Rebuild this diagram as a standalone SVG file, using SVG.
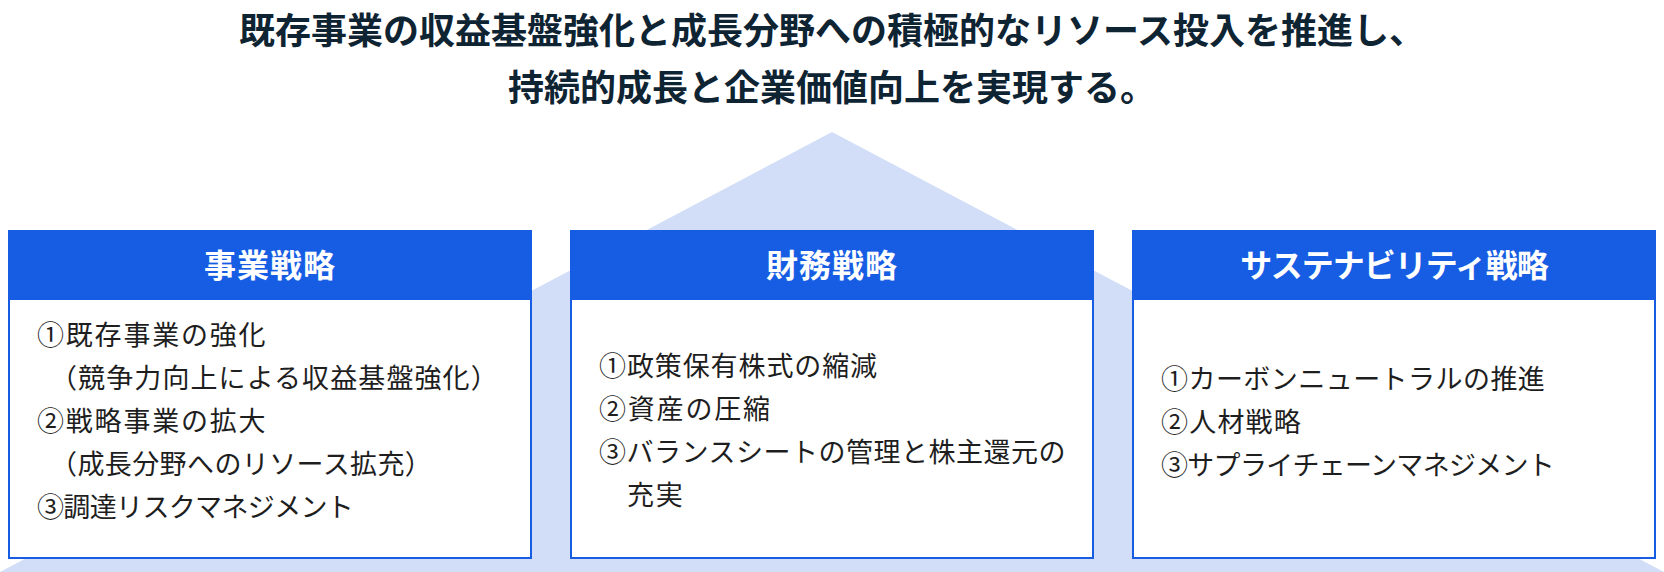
<svg xmlns="http://www.w3.org/2000/svg" width="1664" height="572" viewBox="0 0 1664 572">
  <style>
    .title { font-family: "Noto Sans CJK JP", "Noto Sans", sans-serif; font-size: 36px; font-weight: 700; fill: #0f2433; text-anchor: middle; }
    .head { fill: #165de3; }
    .body { fill: #ffffff; stroke: #165de3; stroke-width: 2; }
    .htext { font-family: "Noto Sans CJK JP", "Noto Sans", sans-serif; font-size: 32px; font-weight: 700; fill: #ffffff; text-anchor: middle; letter-spacing: 1px; }
    .item { font-family: "Noto Sans CJK JP", "Noto Sans", sans-serif; font-size: 27px; font-weight: 400; fill: #1e1e1e; letter-spacing: 1.8px; }
  </style>
  <rect width="1664" height="572" fill="#ffffff"/>
  <polygon id="roof" points="832,132 1664,572 0,572" fill="#d2def7"/>
  <g id="title">
    <text class="title" x="832" y="44">既存事業の収益基盤強化と成長分野への積極的なリソース投入を推進し、</text>
    <text class="title" x="832" y="101">持続的成長と企業価値向上を実現する。</text>
  </g>
  <g id="business">
    <rect class="body" x="9" y="231" width="522" height="327"/>
    <rect class="head" x="8" y="230" width="524" height="70"/>
    <text class="htext" x="270" y="277">事業戦略</text>
    <text class="item" x="37" y="345">①既存事業の強化</text>
    <text class="item" x="50" y="388" style="letter-spacing:1.1px">（競争力向上による収益基盤強化）</text>
    <text class="item" x="37" y="431">②戦略事業の拡大</text>
    <text class="item" x="50" y="474" style="letter-spacing:0.4px">（成長分野へのリソース拡充）</text>
    <text class="item" x="37" y="517" style="letter-spacing:-0.65px">③調達リスクマネジメント</text>
  </g>
  <g id="finance">
    <rect class="body" x="571" y="231" width="522" height="327"/>
    <rect class="head" x="570" y="230" width="524" height="70"/>
    <text class="htext" x="832" y="277">財務戦略</text>
    <text class="item" x="599" y="376" style="letter-spacing:0.9px">①政策保有株式の縮減</text>
    <text class="item" x="599" y="419">②資産の圧縮</text>
    <text class="item" x="599" y="462" style="letter-spacing:0.5px">③バランスシートの管理と株主還元の</text>
    <text class="item" x="627" y="505">充実</text>
  </g>
  <g id="sustainability">
    <rect class="body" x="1133" y="231" width="522" height="327"/>
    <rect class="head" x="1132" y="230" width="524" height="70"/>
    <text class="htext" x="1394" y="277" style="letter-spacing:-1px">サステナビリティ戦略</text>
    <text class="item" x="1161" y="389" style="letter-spacing:0.45px">①カーボンニュートラルの推進</text>
    <text class="item" x="1161" y="432" style="letter-spacing:1.2px">②人材戦略</text>
    <text class="item" x="1161" y="475" style="letter-spacing:-0.7px">③サプライチェーンマネジメント</text>
  </g>
  <g id="connectors"></g>
</svg>
